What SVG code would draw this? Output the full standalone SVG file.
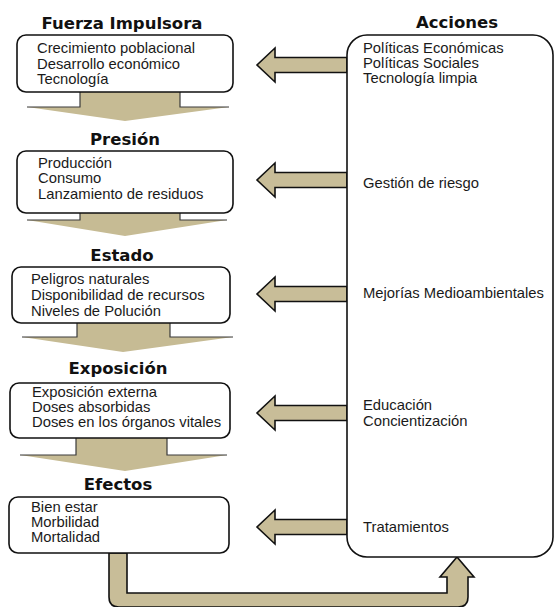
<svg xmlns="http://www.w3.org/2000/svg" width="555" height="607" viewBox="0 0 555 607">
<style>
.box{fill:#fff;stroke:#111;stroke-width:1.6}
.title{font-family:"DejaVu Sans",Verdana,sans-serif;font-weight:bold;font-size:16.5px;fill:#111;text-anchor:middle}
.t{font-family:"Liberation Sans",Arial,sans-serif;font-size:14.8px;fill:#1a1a1a}
.arr{fill:#c8bd98;stroke:#111;stroke-width:1.6;stroke-linejoin:miter}
.down{fill:#c6bb94;stroke:none}
.dedge{fill:none;stroke:#3a3a3a;stroke-width:1.2}
</style>
<rect width="555" height="607" fill="#fff"/>
<g id="connectors">
  <g id="down1"><polygon class="down" points="80,92 80,107 27,107 125,121 229,107 180,107 180,92"/><polyline class="dedge" points="80,92 80,107 27,107"/><polyline class="dedge" points="180,92 180,107 229,107"/></g>
  <g id="down2"><polygon class="down" points="80,213 80,220 27,220 125,236 227,220 180,220 180,213"/><polyline class="dedge" points="80,213 80,220 27,220"/><polyline class="dedge" points="180,213 180,220 227,220"/></g>
  <g id="down3"><polygon class="down" points="77,323 77,337 22,337 123,352 233,337 170,337 170,323"/><polyline class="dedge" points="77,323 77,337 22,337"/><polyline class="dedge" points="170,323 170,337 233,337"/></g>
  <g id="down4"><polygon class="down" points="76,438 76,455 20,455 125,471 227,455 167,455 167,438"/><polyline class="dedge" points="76,438 76,455 20,455"/><polyline class="dedge" points="167,438 167,455 227,455"/></g>
  <polygon class="arr" points="347,57.5 275,57.5 275,48 257,65 275,82 275,72.5 347,72.5"/>
  <polygon class="arr" points="347,172.5 275,172.5 275,163 257,180 275,197 275,187.5 347,187.5"/>
  <polygon class="arr" points="347,286.5 275,286.5 275,277 257,294 275,311 275,301.5 347,301.5"/>
  <polygon class="arr" points="347,405.5 275,405.5 275,396 257,413 275,430 275,420.5 347,420.5"/>
  <polygon class="arr" points="347,519.5 275,519.5 275,510 257,527 275,544 275,534.5 347,534.5"/>
  <path class="arr" d="M109,553 L109,597 Q109,607 119,607 L458,607 Q468,607 468,597 L468,577 L474,577 L457,557 L440,577 L447,577 L447,593 L127,593 L127,553 Z"/>
</g>
<g id="fuerza">
  <text class="title" x="122" y="29">Fuerza Impulsora</text>
  <rect class="box" x="17" y="35" width="216" height="57" rx="9"/>
  <text class="t" x="37" y="53">Crecimiento poblacional</text>
  <text class="t" x="37" y="69">Desarrollo económico</text>
  <text class="t" x="37" y="84">Tecnología</text>
</g>
<g id="presion">
  <text class="title" x="125" y="145">Presión</text>
  <rect class="box" x="17" y="151" width="216" height="62" rx="9"/>
  <text class="t" x="38" y="168">Producción</text>
  <text class="t" x="38" y="183">Consumo</text>
  <text class="t" x="38" y="199">Lanzamiento de residuos</text>
</g>
<g id="estado">
  <text class="title" x="122" y="261">Estado</text>
  <rect class="box" x="12" y="267" width="218" height="56" rx="9"/>
  <text class="t" x="31" y="284">Peligros naturales</text>
  <text class="t" x="31" y="300">Disponibilidad de recursos</text>
  <text class="t" x="31" y="316">Niveles de Polución</text>
</g>
<g id="exposicion">
  <text class="title" x="118" y="374">Exposición</text>
  <rect class="box" x="10" y="383" width="220" height="55" rx="9"/>
  <text class="t" x="32" y="397">Exposición externa</text>
  <text class="t" x="32" y="412">Doses absorbidas</text>
  <text class="t" x="32" y="427">Doses en los órganos vitales</text>
</g>
<g id="efectos">
  <text class="title" x="118" y="490">Efectos</text>
  <rect class="box" x="9" y="497" width="220" height="56" rx="9"/>
  <text class="t" x="31" y="512">Bien estar</text>
  <text class="t" x="31" y="527">Morbilidad</text>
  <text class="t" x="31" y="542">Mortalidad</text>
</g>
<g id="acciones">
  <text class="title" x="457" y="28">Acciones</text>
  <rect class="box" x="347" y="35" width="206" height="522" rx="20"/>
  <text class="t" x="363" y="53">Políticas Económicas</text>
  <text class="t" x="363" y="68">Políticas Sociales</text>
  <text class="t" x="363" y="83">Tecnología limpia</text>
  <text class="t" x="363" y="188">Gestión de riesgo</text>
  <text class="t" x="363" y="298">Mejorías Medioambientales</text>
  <text class="t" x="363" y="410">Educación</text>
  <text class="t" x="363" y="426">Concientización</text>
  <text class="t" x="363" y="532">Tratamientos</text>
</g>
</svg>
